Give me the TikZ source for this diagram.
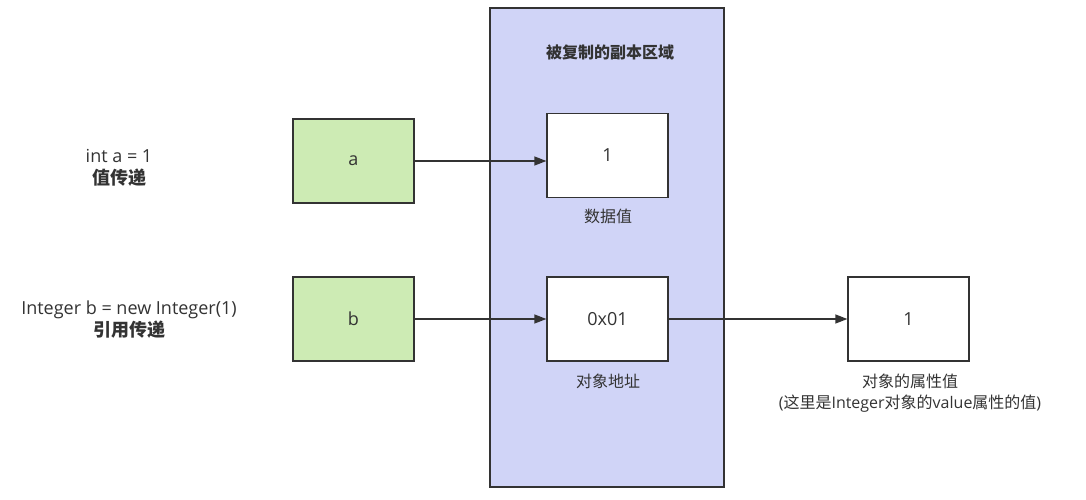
\documentclass[tikz,border=0pt]{standalone}
\usepackage{fontspec}
\setmainfont{Open Sans}
\newfontfamily\cjk{Noto Sans CJK SC}
\usetikzlibrary{arrows.meta}
\definecolor{lav}{HTML}{D0D4F7}
\definecolor{grn}{HTML}{CDEBB4}
\definecolor{edge}{HTML}{333333}
\definecolor{txt}{HTML}{333333}
\tikzset{
  box/.style={draw=edge, line width=1.3pt, minimum width=121pt, minimum height=84pt, inner sep=0pt, font=\fontsize{18}{21}\selectfont, text=txt},
  gbox/.style={box, fill=grn},
  wbox/.style={box, fill=white},
  lbl/.style={font=\fontsize{16}{21}\selectfont, text=txt, align=center, inner sep=0pt},
  side/.style={font=\fontsize{18}{22}\selectfont, text=txt, align=center, inner sep=0pt},
  conn/.style={draw=edge, line width=1.3pt, -{Triangle[length=12pt,width=9pt]}}
}
\begin{document}
\begin{tikzpicture}[x=1pt,y=-1pt]
\useasboundingbox (0,0) rectangle (1086,500);
\fill[white] (0,0) rectangle (1086,500);
\node[draw=edge, line width=1.3pt, fill=lav, minimum width=234pt, minimum height=479pt, inner sep=0pt] (region) at (607,247.5) {};
\node[lbl, font=\fontsize{16}{19}\selectfont\bfseries] (title) at (610,52) {\cjk 被复制的副本区域};
\node[gbox] (a) at (353.5,161) {a};
\node[gbox] (b) at (353.5,319) {b};
\node[wbox] (v1) at (607.5,155.5) {1};
\node[wbox] (addr) at (607.5,319) {0x01};
\node[wbox] (obj) at (908.5,319) {1};
\node[lbl] (l1) at (608,216) {\cjk 数据值};
\node[lbl] (l2) at (608,381) {\cjk 对象地址};
\node[lbl] (l3) at (910,393.5) {{\cjk 对象的属性值}\\({\cjk 这里是}Integer{\cjk 对象的}value{\cjk 属性的值})};
\node[side] (ta) at (119,168) {int a = 1\\{\cjk\bfseries 值传递}};
\node[side] (tb) at (129,320) {Integer b = new Integer(1)\\{\cjk\bfseries 引用传递}};
\draw[conn] (a.east) -- (a.east -| v1.west);
\draw[conn] (b.east) -- (addr.west);
\draw[conn] (addr.east) -- (obj.west);
\end{tikzpicture}
\end{document}
